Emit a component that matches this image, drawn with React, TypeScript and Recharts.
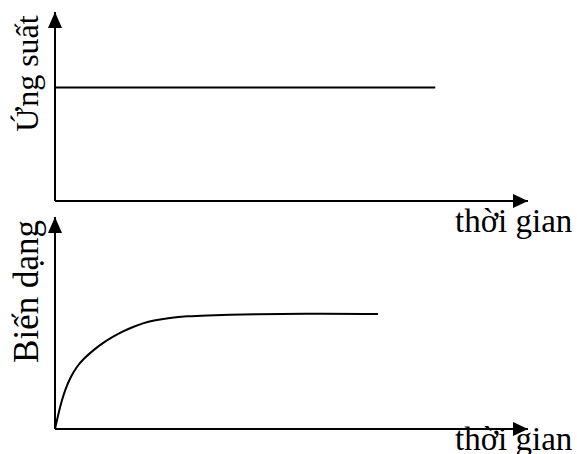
import {
  LineChart,
  Line,
  XAxis,
  YAxis,
  ReferenceDot,
} from "recharts";

// Upper panel: constant stress over time
const stressTime = [0, 8.04];
const stressValue = [6, 6];

// Lower panel: strain rising and levelling off (creep curve)
const strainTime = [
  0, 0.07, 0.14, 0.21, 0.32, 0.46, 0.6, 0.81, 1.02, 1.23, 1.44, 1.65, 1.86, 2.07, 2.43, 2.79, 3.21, 3.7,
  4.19, 5.18, 6.83,
];
const strainValue = [
  0, 0.7, 1.31, 1.82, 2.42, 2.94, 3.3, 3.72, 4.07, 4.36, 4.61, 4.82, 4.99, 5.12, 5.25, 5.32, 5.36, 5.39,
  5.41, 5.44, 5.42,
];

const timeDomain: [number, number] = [0, 10];
const valueDomain: [number, number] = [0, 10];

const xLabel = "thời gian";
const stressLabel = "Ứng suất";
const strainLabel = "Biến dạng";

const FONT = "'Liberation Serif', 'Times New Roman', serif";

const stressData = stressTime.map((t, i) => ({ t, v: stressValue[i] }));
const strainData = strainTime.map((t, i) => ({ t, v: strainValue[i] }));

type Box = { x: number; y: number; width: number; height: number };

const upArrow = (p: { cx?: number; cy?: number }) => {
  const cx = p.cx ?? 0;
  const cy = p.cy ?? 0;
  return <path d={`M${cx},${cy} L${cx - 7},${cy + 16} L${cx + 7},${cy + 16} Z`} fill="#000" />;
};

const rightArrow = (p: { cx?: number; cy?: number }) => {
  const cx = p.cx ?? 0;
  const cy = p.cy ?? 0;
  return <path d={`M${cx},${cy} L${cx - 15},${cy - 7} L${cx - 15},${cy + 7} Z`} fill="#000" />;
};

function Panel({
  data,
  top,
  height,
  marginTop,
  marginBottom,
  yLabel,
  yLabelSize,
  yLabelCenter,
  xLabelDrop,
}: {
  data: { t: number; v: number }[];
  top: number;
  height: number;
  marginTop: number;
  marginBottom: number;
  yLabel: string;
  yLabelSize: number;
  yLabelCenter: number;
  xLabelDrop: number;
}) {
  return (
    <div style={{ position: "absolute", left: 0, top }}>
      <LineChart
        width={577}
        height={height}
        data={data}
        margin={{ top: marginTop, right: 49, bottom: marginBottom, left: 54 }}
        style={{ overflow: "visible" }}
      >
        <XAxis
          dataKey="t"
          type="number"
          domain={timeDomain}
          height={1}
          tick={false}
          tickLine={false}
          axisLine={{ stroke: "#000", strokeWidth: 2 }}
          label={{
            content: (p: { viewBox?: Box }) => {
              const vb = p.viewBox as Box;
              return (
                <text
                  x={vb.x + vb.width - 73}
                  y={vb.y + xLabelDrop}
                  fontFamily={FONT}
                  fontSize={33}
                  fill="#000"
                >
                  {xLabel}
                </text>
              );
            },
          }}
        />
        <YAxis
          type="number"
          domain={valueDomain}
          width={1}
          tick={false}
          tickLine={false}
          axisLine={{ stroke: "#000", strokeWidth: 2 }}
          label={{
            content: (p: { viewBox?: Box }) => {
              const vb = p.viewBox as Box;
              const x = vb.x + vb.width - 17;
              const y = vb.y + yLabelCenter;
              return (
                <text
                  x={x}
                  y={y}
                  transform={`rotate(-90 ${x} ${y})`}
                  textAnchor="middle"
                  fontFamily={FONT}
                  fontSize={yLabelSize}
                  fill="#000"
                >
                  {yLabel}
                </text>
              );
            },
          }}
        />
        <Line
          dataKey="v"
          type="basis"
          stroke="#000"
          strokeWidth={2}
          dot={false}
          activeDot={false}
          isAnimationActive={false}
        />
        <ReferenceDot x={timeDomain[0]} y={valueDomain[1]} shape={upArrow} />
        <ReferenceDot x={timeDomain[1]} y={valueDomain[0]} shape={rightArrow} />
      </LineChart>
    </div>
  );
}

export default function App() {
  return (
    <div
      style={{
        position: "absolute",
        left: 0,
        top: 0,
        width: 577,
        height: 454,
        background: "#fff",
        overflow: "hidden",
      }}
    >
      <Panel
        data={stressData}
        top={0}
        height={245}
        marginTop={12}
        marginBottom={43}
        yLabel={stressLabel}
        yLabelSize={32}
        yLabelCenter={61.5}
        xLabelDrop={31}
      />
      <Panel
        data={strainData}
        top={205}
        height={249}
        marginTop={12}
        marginBottom={24}
        yLabel={strainLabel}
        yLabelSize={35}
        yLabelCenter={74.5}
        xLabelDrop={21}
      />
    </div>
  );
}
